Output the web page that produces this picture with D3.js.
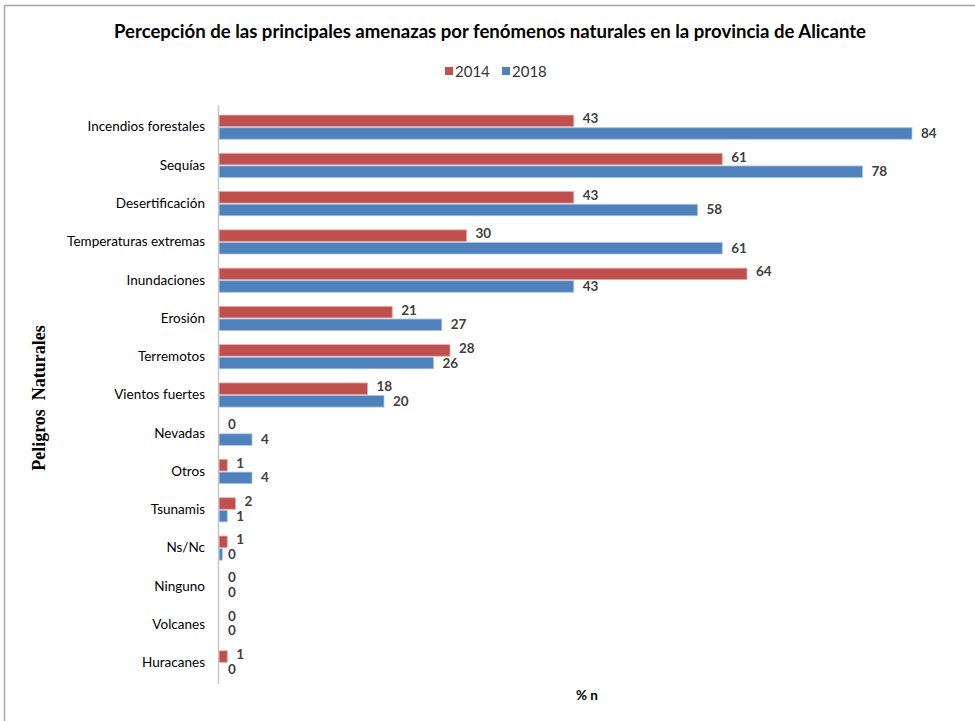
<!DOCTYPE html>
<html>
<head>
<meta charset="utf-8">
<script src="https://cdn.jsdelivr.net/npm/d3@7"></script>
<style>
  body { margin: 0; background: #fff; }
  svg { display: block; }
</style>
</head>
<body>
<script>
const categories = ["Incendios forestales", "Sequías", "Desertificación", "Temperaturas extremas", "Inundaciones", "Erosión", "Terremotos", "Vientos fuertes", "Nevadas", "Otros", "Tsunamis", "Ns/Nc", "Ninguno", "Volcanes", "Huracanes"];
const seriesNames = ["2014", "2018"];
const values2014 = [43, 61, 43, 30, 64, 21, 28, 18, 0, 1, 2, 1, 0, 0, 1];
const values2018 = [84, 78, 58, 61, 43, 27, 26, 20, 4, 4, 1, 0.4, 0, 0, 0];
const colors = ["#C0504D", "#4F81BD"];
const strokeColors = ["#e3a9a7", "#a9c2e3"];

const W = 975, H = 721;
const svg = d3.select("body").append("svg").attr("width", W).attr("height", H);

// frame
svg.append("line").attr("x1", 4.5).attr("x2", W).attr("y1", 5.5).attr("y2", 5.5).attr("stroke", "#a6a6a6").attr("stroke-width", 1.5);
svg.append("line").attr("x1", 4.5).attr("x2", 4.5).attr("y1", 5.5).attr("y2", H).attr("stroke", "#a6a6a6").attr("stroke-width", 1.5);

const font = "Lato, 'Open Sans', sans-serif";

// title
svg.append("text").attr("x", 490).attr("y", 38).attr("text-anchor", "middle")
  .attr("font-family", font).attr("font-weight", "bold").attr("font-size", 18.5).attr("fill", "#000")
  .attr("textLength", 752).attr("lengthAdjust", "spacingAndGlyphs")
  .text("Percepción de las principales amenazas por fenómenos naturales en la provincia de Alicante");

// legend
const legX = [445, 502];
seriesNames.forEach((s, i) => {
  svg.append("rect").attr("x", legX[i]).attr("y", 67).attr("width", 8).attr("height", 8).attr("fill", colors[i]);
  svg.append("text").attr("x", legX[i] + 10).attr("y", 77).attr("font-family", font).attr("font-size", 15).attr("fill", "#333").text(s);
});

const x = d3.scaleLinear().domain([0, 84]).range([219, 912]);
const y0 = d3.scaleBand().domain(categories).range([108, 682]).paddingInner(0.37).paddingOuter(0.185);
const y1 = d3.scaleBand().domain(seriesNames).range([0, y0.bandwidth()]).paddingInner(0.09);
const fmt = d3.format(".0f");

const data = categories.map((c, i) => ({ cat: c, vals: [values2014[i], values2018[i]] }));

const g = svg.append("g");
data.forEach(d => {
  d.vals.forEach((v, j) => {
    const yy = y0(d.cat) + y1(seriesNames[j]);
    if (v > 0) {
      g.append("rect").attr("x", x(0)).attr("y", yy).attr("width", x(v) - x(0)).attr("height", y1.bandwidth())
        .attr("fill", colors[j]).attr("stroke", strokeColors[j]).attr("stroke-width", 0.8);
    }
    const lx = v > 0 && v < 0.5 ? x(0) + 9 : x(v) + 9;
    g.append("text").attr("x", lx).attr("y", yy + y1.bandwidth() / 2 + (j === 0 ? -1 : 1))
      .attr("dominant-baseline", "middle").attr("font-family", font).attr("font-weight", "bold")
      .attr("font-size", 13.5).attr("fill", "#404040").text(fmt(v));
  });
});

// axis
const axis = d3.axisLeft(y0).tickSize(0).tickPadding(14);
const ag = svg.append("g").attr("transform", `translate(${x(0)},0)`).call(axis);
ag.select(".domain").remove();
ag.selectAll("text").attr("font-family", font).attr("font-size", 13.5).attr("fill", "#000");
svg.append("line").attr("x1", x(0) - 0.5).attr("x2", x(0) - 0.5).attr("y1", 105).attr("y2", 684).attr("stroke", "#c8c8c8").attr("stroke-width", 1.5);

// axis titles
svg.append("text").attr("transform", "translate(45,398) rotate(-90)").attr("text-anchor", "middle")
  .attr("font-family", "'Liberation Serif', serif").attr("font-weight", "bold").attr("font-size", 18).attr("fill", "#000")
  .attr("xml:space", "preserve")
  .text("Peligros  Naturales");
svg.append("text").attr("x", 587).attr("y", 700).attr("text-anchor", "middle")
  .attr("font-family", font).attr("font-weight", "bold").attr("font-size", 13.5).attr("fill", "#000").text("% n");
</script>
</body>
</html>
